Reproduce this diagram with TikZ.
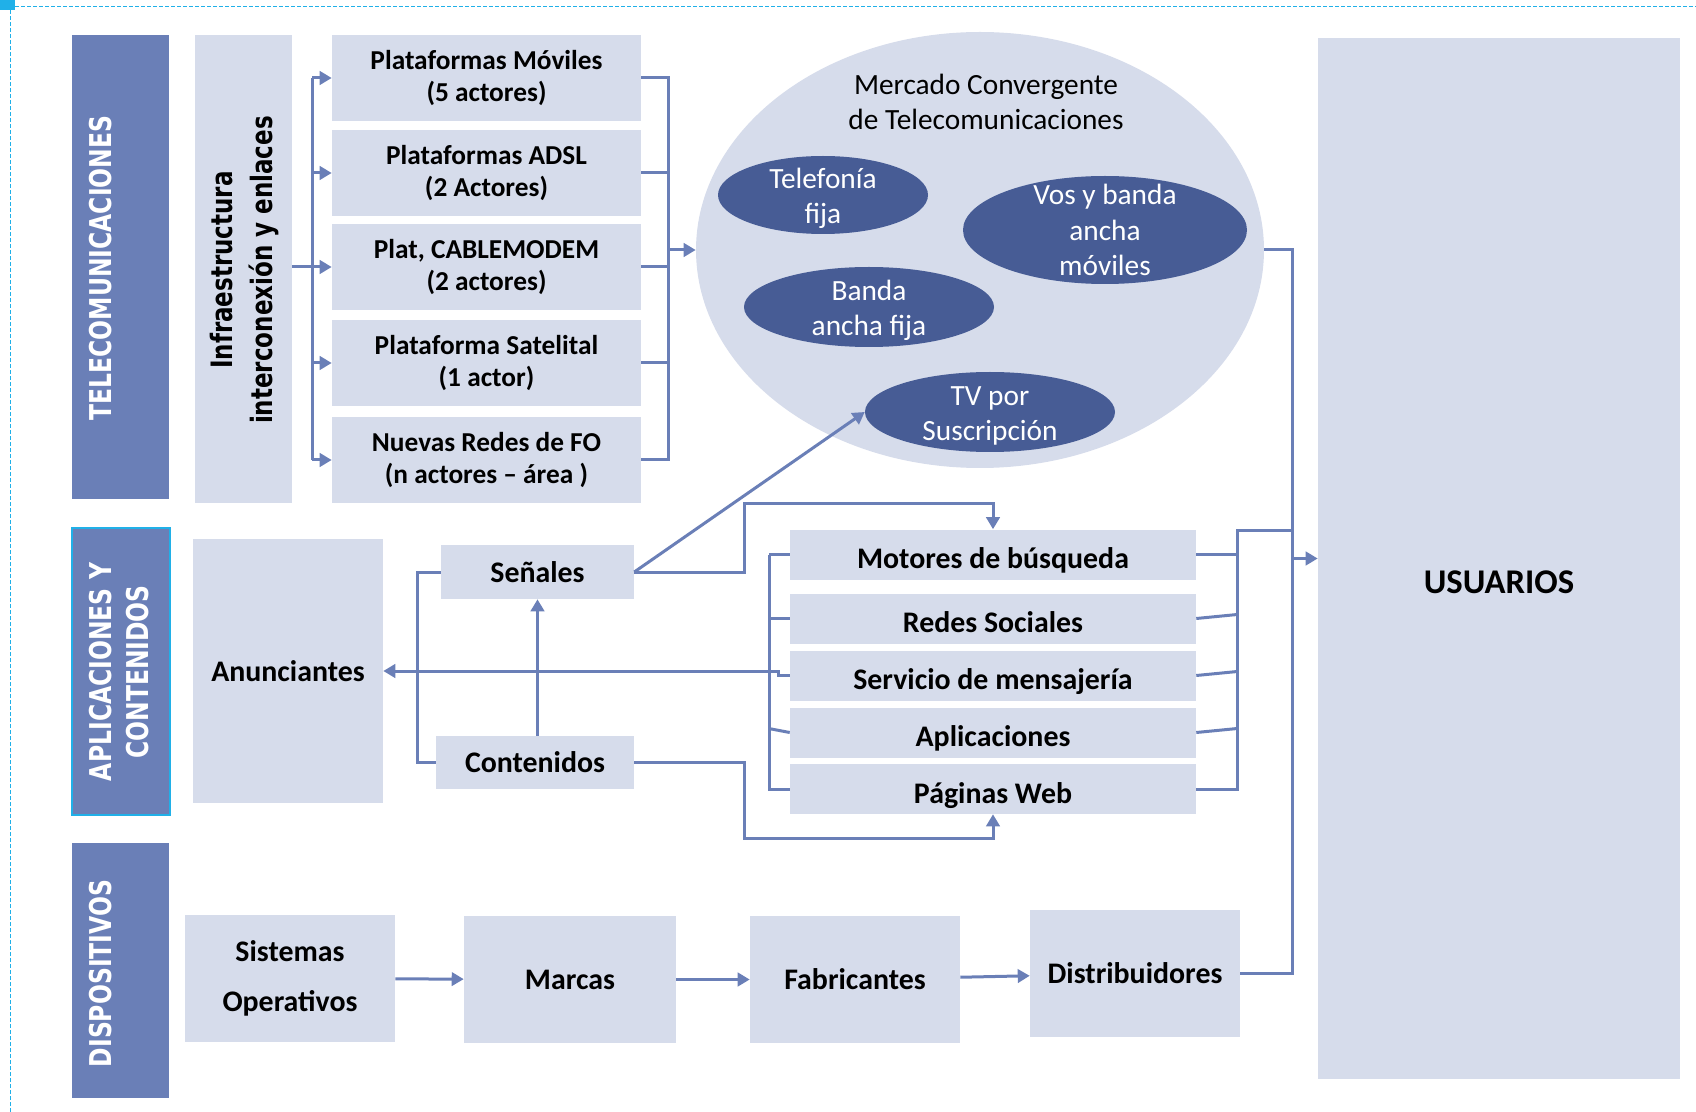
\documentclass[tikz,border=0pt]{standalone}
\usepackage{graphicx}
\usepackage{fontspec}
\setmainfont{Carlito}
\newfontfamily\barfont{DejaVu Sans}
\usetikzlibrary{arrows.meta,shapes.geometric}

\definecolor{barblue}{RGB}{106,127,183}
\definecolor{ovalblue}{RGB}{71,92,149}
\definecolor{boxgray}{RGB}{214,220,235}
\definecolor{linkblue}{RGB}{106,127,183}
\definecolor{frameblue}{RGB}{32,176,232}

% texto vertical algo mas alto
\newcommand{\tall}[1]{\scalebox{1}[1.28]{#1}}

\tikzset{
  sz/.style 2 args={minimum width=#1*0.75pt, minimum height=#2*0.75pt},
  bar/.style={fill=barblue, inner sep=0pt},
  bartext/.style={rotate=90, text=white, align=center,
    font=\barfont\bfseries\fontsize{17.6}{27.75}\selectfont},
  plat/.style={fill=boxgray, inner sep=0pt, align=center,
    font=\bfseries\fontsize{20.5}{24}\selectfont},
  actor/.style={fill=boxgray, inner sep=0pt, align=center,
    font=\bfseries\fontsize{22.4}{26}\selectfont},
  row/.style={actor, text height=21pt, text depth=0pt},
  oval/.style={ellipse, fill=ovalblue, inner sep=0pt},
  ovaltext/.style={text=white, align=center, font=\fontsize{22}{26.6}\selectfont},
  link/.style={draw=linkblue, line width=2.25pt},
  arr/.style={link, -{Triangle[length=9pt,width=10pt]}},
}

\begin{document}
\begin{tikzpicture}[x=0.75pt,y=-0.75pt]
  \useasboundingbox (0,0) rectangle (1696,1112);
  \fill[frameblue] (0,0) rectangle (15,10);
  \draw[frameblue, line width=0.75pt, dash pattern=on 3pt off 1.5pt] (10,1112) -- (10,7) -- (1696,7);

  % telecomunicaciones
  \node[bar, sz={97}{464}] (tele) at (120.5,267) {};
  \node[bartext] (teletxt) at (101,268) {\tall{TELECOMUNICACIONES}};
  \node[fill=boxgray, sz={97}{468}] (infra) at (243.5,269) {};
  \node[bartext, text=black, font=\barfont\bfseries\fontsize{17.25}{30}\selectfont] (infratxt) at (244,270)
    {\tall{Infraestructura}\\\tall{interconexión y enlaces}};
  \node[plat, sz={309}{86}] (movil) at (486.5,78) {Plataformas Móviles\\(5 actores)};
  \node[plat, sz={309}{86}] (adsl) at (486.5,173) {Plataformas ADSL\\(2 Actores)};
  \node[plat, sz={309}{86}] (cable) at (486.5,267) {Plat, CABLEMODEM\\(2 actores)};
  \node[plat, sz={309}{86}] (satel) at (486.5,363) {Plataforma Satelital\\(1 actor)};
  \node[plat, sz={309}{86}] (fo) at (486.5,460) {Nuevas Redes de FO\\(n actores – área )};

  % mercado convergente
  \node[oval, fill=boxgray, sz={568}{436}] (mercado) at (980,250) {};
  \node[font=\fontsize{22}{26.25}\selectfont, align=center] (mertitle) at (986,102)
    {Mercado Convergente\\de Telecomunicaciones};
  \node[oval, sz={210}{78}, label={[ovaltext, yshift=-2.5pt]center:{Telefonía\\fija}}] (fija) at (823,195) {};
  \node[oval, sz={284}{108}, label={[ovaltext]center:{Vos y banda\\ancha\\móviles}}] (movbb) at (1105,230) {};
  \node[oval, sz={250}{80}, label={[ovaltext, yshift=-2.5pt]center:{Banda\\ancha fija}}] (fijabb) at (869,307) {};
  \node[oval, sz={250}{80}, label={[ovaltext, yshift=-3pt]center:{TV por\\Suscripción}}] (tv) at (990,412) {};

  \node[actor, sz={362}{1041},
    label={[font=\bfseries\fontsize{26}{30}\selectfont, yshift=-17.6pt]center:USUARIOS}] (usr) at (1499,558.5) {};

  % aplicaciones y contenidos
  \node[bar, draw=frameblue, line width=1.5pt, sz={98}{287}] (apps) at (121,671.5) {};
  \node[bartext] (appstxt) at (119.5,672) {\tall{APLICACIONES Y}\\\tall{CONTENIDOS}};
  \node[actor, sz={190}{264}] (anun) at (288,671) {Anunciantes};
  \node[actor, sz={193}{54}] (senal) at (537.5,572) {Señales};
  \node[actor, sz={198}{53}] (conte) at (535,762.5) {Contenidos};
  \node[row, sz={406}{50}] (motor) at (993,554.5) {Motores de búsqueda};
  \node[row, sz={406}{50}] (redes) at (993,618.5) {Redes Sociales};
  \node[row, sz={406}{50}] (mensa) at (993,675.5) {Servicio de mensajería};
  \node[row, sz={406}{50}] (aplic) at (993,732.5) {Aplicaciones};
  \node[row, sz={406}{50}] (web) at (993,789) {Páginas Web};

  % dispositivos
  \node[bar, sz={97}{255}] (dispo) at (120.5,970.5) {};
  \node[bartext] (dispotxt) at (101,973.5) {\tall{DISPOSITIVOS}};
  \node[actor, sz={210}{127}, font=\bfseries\fontsize{22.4}{37.5}\selectfont] (sisop) at (290,978.5) {Sistemas\\Operativos};
  \node[actor, sz={212}{127}] (marca) at (570,979.5) {Marcas};
  \node[actor, sz={210}{127}] (fabri) at (855,979.5) {Fabricantes};
  \node[actor, sz={210}{127}] (distr) at (1135,973.5) {Distribuidores};

  \coordinate (lbus) at (312,267);
  \coordinate (rbus) at (668,250);
  \coordinate (ubus) at (1292,558.5);
  \coordinate (abus) at (1237,530);
  \coordinate (cbus) at (769,670);
  \coordinate (sbrk) at (417,670);
  \coordinate (arriba) at (744,503);
  \coordinate (abajo) at (744,838);

  % infraestructura -> plataformas -> mercado
  \draw[link] (infra.east |- lbus) -- (lbus);
  \draw[link] (lbus |- movil) -- (lbus |- fo);
  \draw[arr] (lbus |- movil) -- (movil.west);
  \draw[arr] (lbus |- adsl) -- (adsl.west);
  \draw[arr] (lbus |- cable) -- (cable.west);
  \draw[arr] (lbus |- satel) -- (satel.west);
  \draw[arr] (lbus |- fo) -- (fo.west);
  \draw[link] (movil.east) -- (rbus |- movil) -- (rbus |- fo) -- (fo.east);
  \draw[link] (adsl.east) -- (rbus |- adsl);
  \draw[link] (cable.east) -- (rbus |- cable);
  \draw[link] (satel.east) -- (rbus |- satel);
  \draw[arr] (rbus) -- (mercado.west);

  % hacia usuarios
  \draw[link] (mercado.east) -| (ubus |- distr.east) -- (distr.east);
  \draw[arr] (ubus) -- (usr.west);
  \draw[link] (ubus |- abus) -- (abus) -- (abus |- web.east) -- (web.east);
  \draw[link] (motor.east) -- (abus |- motor.east);
  \draw[link] (redes.east) -- ++(41,-4);
  \draw[link] (mensa.east) -- ++(41,-4);
  \draw[link] (aplic.east) -- ++(41,-4);

  % aplicaciones -> anunciantes
  \draw[link] (cbus |- motor.west) -- (cbus |- web.west) -- (web.west);
  \draw[link] (motor.west) -- (cbus |- motor.west);
  \draw[link] (redes.west) -- (cbus |- redes.west);
  \draw[link] (aplic.west) -- ++(-21,-4);
  \draw[arr] (mensa.west) -- ++(-11,0) |- (anun.east);

  % senales y contenidos
  \draw[link] (senal.west) -- (sbrk |- senal.west) |- (conte.west);
  \draw[arr] (senal.south |- conte.north) -- (senal.south);
  \draw[arr] (senal.east) -- (tv.west);
  \draw[arr] (senal.east) -| (arriba) -| (motor.north);
  \draw[arr] (conte.east) -| (abajo) -| (web.south);

  % cadena de dispositivos
  \draw[arr] (sisop) -- (marca);
  \draw[arr] (marca) -- (fabri);
  \draw[arr] (fabri) -- (distr);
\end{tikzpicture}
\end{document}
